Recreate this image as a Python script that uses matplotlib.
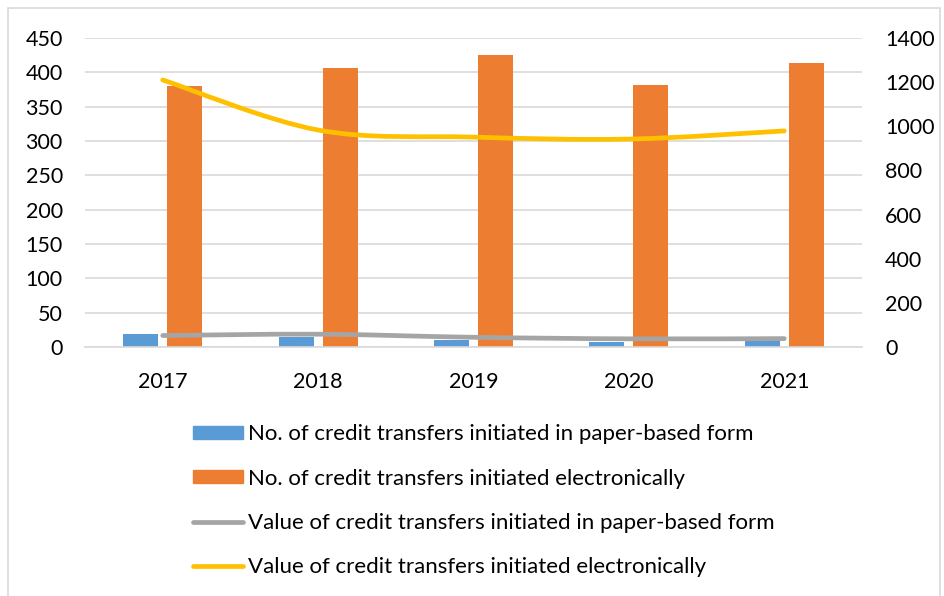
import matplotlib
matplotlib.use("Agg")
import matplotlib.pyplot as plt
import numpy as np
from matplotlib.path import Path
from matplotlib.patches import PathPatch, Rectangle
from matplotlib.lines import Line2D

years = ["2017", "2018", "2019", "2020", "2021"]
paper_count = [19, 15, 10, 8, 9]
electronic_count = [380, 406, 425, 381, 414]
paper_value = [52, 58, 44, 37, 38]
electronic_value = [1210, 983, 951, 942, 979]

plt.rcParams['font.family'] = ['Lato', 'DejaVu Sans']

W, H = 945, 596
fig = plt.figure(figsize=(W / 100, H / 100), dpi=100)

def px(x0, y0, x1, y1):
    return [x0 / W, 1 - y1 / H, (x1 - x0) / W, (y1 - y0) / H]

# outer frame
fig.patches.append(Rectangle((8 / W, -0.05), (932) / W, 1 - 8 / H + 0.05,
                             transform=fig.transFigure, fill=False,
                             edgecolor="#d9d9d9", linewidth=1.2))

ax = fig.add_axes(px(85, 38, 862, 347))
ax2 = ax.twinx()

x = np.arange(len(years))
bw = 0.225
ax.bar(x - 0.142, paper_count, width=bw, color="#5B9BD5", zorder=2)
ax.bar(x + 0.142, electronic_count, width=bw, color="#ED7D31", zorder=2)

ax.set_xlim(-0.5, len(years) - 0.5)
ax.set_ylim(0, 450)
ax.set_yticks(np.arange(0, 451, 50))
ax.set_xticks(x)
ax.set_xticklabels(years)
ax.grid(axis="y", color="#d9d9d9", linewidth=1.2, zorder=0)
ax.set_axisbelow(True)

ax2.set_ylim(0, 1400)
ax2.set_yticks(np.arange(0, 1401, 200))

for a in (ax, ax2):
    for s in a.spines.values():
        s.set_visible(False)
    a.tick_params(length=0, labelsize=15.5, colors="#000000")
ax.spines["bottom"].set_visible(True)
ax.spines["bottom"].set_color("#d9d9d9")
ax.spines["bottom"].set_linewidth(1.2)
ax.tick_params(axis="y", pad=16)
ax.tick_params(axis="x", pad=18)
ax2.tick_params(axis="y", pad=16.5)


def smooth_path(xs, ys):
    pts = np.column_stack([xs, ys]).astype(float)
    verts = [pts[0]]
    codes = [Path.MOVETO]
    n = len(pts)
    for i in range(n - 1):
        p0 = pts[i - 1] if i > 0 else pts[i]
        p1 = pts[i]
        p2 = pts[i + 1]
        p3 = pts[i + 2] if i + 2 < n else pts[i + 1]
        c1 = p1 + (p2 - p0) / 6.0
        c2 = p2 - (p3 - p1) / 6.0
        verts += [c1, c2, p2]
        codes += [Path.CURVE4] * 3
    return Path(verts, codes)


lw = 3.4
for vals, col in ((paper_value, "#A5A5A5"), (electronic_value, "#FFC000")):
    patch = PathPatch(smooth_path(x, vals), facecolor="none", edgecolor=col,
                      linewidth=lw, capstyle="round", joinstyle="round", zorder=3)
    ax2.add_patch(patch)

handles = [
    Rectangle((0, 0), 1, 1, color="#5B9BD5"),
    Rectangle((0, 0), 1, 1, color="#ED7D31"),
    Line2D([], [], color="#A5A5A5", linewidth=lw, solid_capstyle="round"),
    Line2D([], [], color="#FFC000", linewidth=lw, solid_capstyle="round"),
]
labels = [
    "No. of credit transfers initiated in paper-based form",
    "No. of credit transfers initiated electronically",
    "Value of credit transfers initiated in paper-based form",
    "Value of credit transfers initiated electronically",
]
fig.legend(handles, labels, loc="upper left", bbox_to_anchor=(182 / W, 1 - 413 / H),
           frameon=False, fontsize=16, handlelength=2.25, handleheight=0.5,
           handletextpad=0.22, labelspacing=1.1, borderpad=0)

fig.savefig("out.png", dpi=100)
